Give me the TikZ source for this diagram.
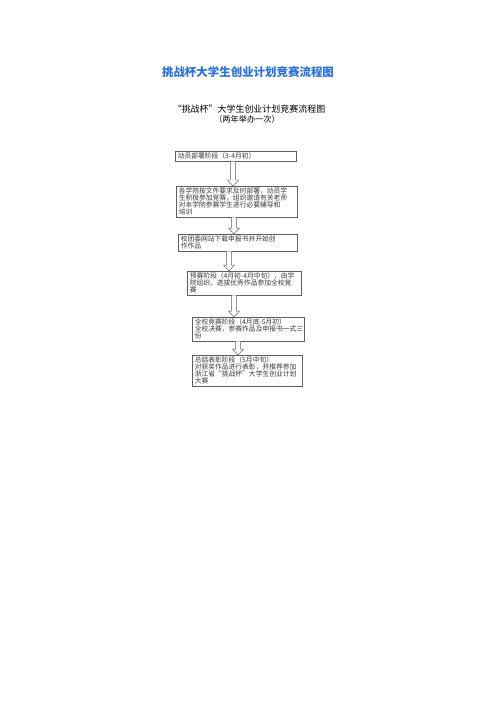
\documentclass[tikz,border=0pt]{standalone}
\usepackage{fontspec}
\newfontfamily\cjk{Noto Sans CJK SC}
\definecolor{titre}{RGB}{41,112,226}
\definecolor{trait}{RGB}{95,95,95}
\definecolor{texte}{RGB}{55,55,55}

\tikzset{
	etape/.style={draw=trait, line width=.6, anchor=north west, align=left,
		inner xsep=2.5, inner ysep=1.8, text=texte,
		font=\cjk\fontsize{6.8}{7}\selectfont},
	fleche/.style={draw=trait, line width=.5, fill=white}
}

% fleche creuse entre deux etapes, a l'abscisse #3
\newcommand{\creuse}[3]{
	\coordinate (fx) at (#3,0);
	\coordinate (fa) at (#1.south -| fx);
	\coordinate (fb) at (#2.north -| fx);
	\draw[fleche] ([shift={(-2.5,0)}]fa) -- ([shift={(-2.5,-6)}]fb) -- ([shift={(-5.5,-6)}]fb)
		-- (fb) -- ([shift={(5.5,-6)}]fb) -- ([shift={(2.5,-6)}]fb) -- ([shift={(2.5,0)}]fa);
}

\begin{document}
\begin{tikzpicture}[x=1bp,y=-1bp]
	\useasboundingbox (0,0) rectangle (496,702);

	% titres
	\node[text=titre, font=\cjk\bfseries\fontsize{11.5}{13}\selectfont] (titre) at (248,72) {挑战杯大学生创业计划竞赛流程图};
	\node[font=\cjk\fontsize{9}{10}\selectfont, inner sep=0] (sous) at (249,109.5) {“挑战杯”大学生创业计划竞赛流程图};
	\node[font=\cjk\fontsize{8.2}{9}\selectfont, inner sep=0] (freq) at (247,119.5) {（两年举办一次）};

	% etapes
	\node[etape, text width=116] (e1) at (175,151) {动员部署阶段（3-4月初）};
	\node[etape, text width=116] (e2) at (176,186) {各学院按文件要求及时部署，动员学\\生积极参加竞赛，组织邀请有关老师\\对本学院参赛学生进行必要辅导和\\培训};
	\node[etape, text width=114] (e3) at (178,234) {校团委网站下载申报书并开始创\\作作品};
	\node[etape, text width=109] (e4) at (187,271) {预赛阶段（4月初-4月中旬），由学\\院组织，选拔优秀作品参加全校竞\\赛};
	\node[etape, text width=107] (e5) at (192,317) {全校竞赛阶段（4月底-5月初）\\全校决赛，参赛作品及申报书一式三\\份};
	\node[etape, text width=105] (e6) at (192,355) {总结表彰阶段（5月中旬）\\对获奖作品进行表彰，并推荐参加\\浙江省“挑战杯”大学生创业计划\\大赛};

	% fleches
	\creuse{e1}{e2}{233}
	\creuse{e2}{e3}{234}
	\creuse{e3}{e4}{229}
	\creuse{e4}{e5}{234}
	\creuse{e5}{e6}{238}

\end{tikzpicture}
\end{document}
